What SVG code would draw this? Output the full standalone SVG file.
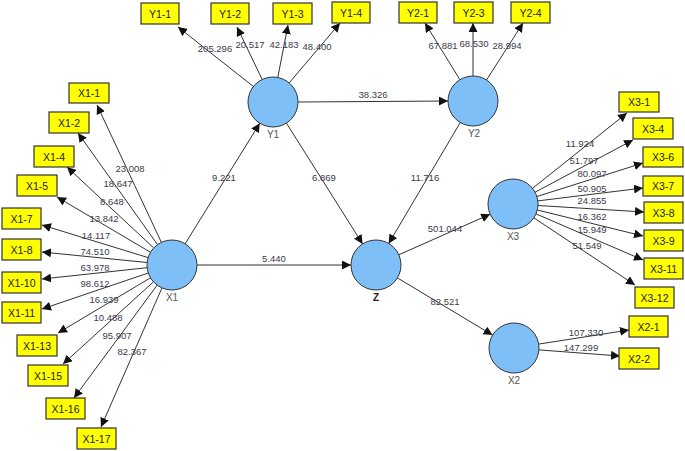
<svg xmlns="http://www.w3.org/2000/svg" width="685" height="451" viewBox="0 0 685 451">
<defs>
<marker id="ah" viewBox="0 0 10 10" refX="10" refY="5" markerWidth="9" markerHeight="9" markerUnits="userSpaceOnUse" orient="auto">
<path d="M0,0 L10,5 L0,10 z" fill="#111"/>
</marker>
</defs>
<style>
.c{stroke:#333;stroke-width:1;fill:none;marker-end:url(#ah)}
.lv{fill:#7fbff7;stroke:#333;stroke-width:1}
.bx{fill:#ffff00;stroke:#333;stroke-width:1.2}
.bt{font-family:"Liberation Sans",Arial,sans-serif;font-size:10.5px;fill:#222;text-anchor:middle}
.nl{font-family:"Liberation Sans",Arial,sans-serif;font-size:10px;fill:#555;text-anchor:middle}
.v{font-family:"Liberation Sans",Arial,sans-serif;font-size:9.5px;fill:#3a3a4a;text-anchor:middle}
</style>
<rect width="685" height="451" fill="#fff"/>
<g id="connectors">
<line class="c" x1="185" y1="244" x2="259.8" y2="123.2"/>
<line class="c" x1="197" y1="265" x2="351" y2="265"/>
<line class="c" x1="298" y1="102" x2="448" y2="101"/>
<line class="c" x1="286.4" y1="123.1" x2="362.6" y2="243.9"/>
<line class="c" x1="460.3" y1="122.5" x2="388.7" y2="243.5"/>
<line class="c" x1="398.8" y1="254.8" x2="490.2" y2="214.2"/>
<line class="c" x1="397.4" y1="277.9" x2="492.6" y2="335.1"/>
<line class="c" x1="161.4" y1="242.4" x2="97" y2="105"/>
<line class="c" x1="157.5" y1="244.6" x2="78" y2="133"/>
<line class="c" x1="153.7" y1="247.9" x2="67" y2="167"/>
<line class="c" x1="150.5" y1="252.3" x2="57" y2="197"/>
<line class="c" x1="148.1" y1="257.6" x2="42" y2="225"/>
<line class="c" x1="147.1" y1="262.5" x2="42" y2="252"/>
<line class="c" x1="147.2" y1="267.7" x2="42" y2="279"/>
<line class="c" x1="148.3" y1="273" x2="42" y2="309"/>
<line class="c" x1="150.5" y1="277.8" x2="58" y2="333"/>
<line class="c" x1="153.5" y1="281.8" x2="63" y2="364"/>
<line class="c" x1="157.2" y1="285.1" x2="74" y2="398"/>
<line class="c" x1="162" y1="287.9" x2="101" y2="427"/>
<line class="c" x1="253.4" y1="86.5" x2="178" y2="27"/>
<line class="c" x1="262.2" y1="79.5" x2="237" y2="27"/>
<line class="c" x1="277.8" y1="77.4" x2="288" y2="25"/>
<line class="c" x1="289.2" y1="82.9" x2="340" y2="23"/>
<line class="c" x1="459.9" y1="79.7" x2="425" y2="23"/>
<line class="c" x1="473" y1="76" x2="473" y2="23"/>
<line class="c" x1="486.5" y1="80" x2="523" y2="23"/>
<line class="c" x1="532.5" y1="188.4" x2="627" y2="113"/>
<line class="c" x1="535.1" y1="192.2" x2="633" y2="140"/>
<line class="c" x1="536.9" y1="196.5" x2="643" y2="163"/>
<line class="c" x1="537.8" y1="200.9" x2="643" y2="188"/>
<line class="c" x1="538" y1="205.5" x2="644" y2="212"/>
<line class="c" x1="537.3" y1="210" x2="643" y2="236"/>
<line class="c" x1="536" y1="213.9" x2="643" y2="260"/>
<line class="c" x1="533.8" y1="217.8" x2="635" y2="285"/>
<line class="c" x1="538.7" y1="344.1" x2="629" y2="330"/>
<line class="c" x1="538.9" y1="349.9" x2="620" y2="356"/>
<g id="connector-labels">
<text class="v" x="224" y="181">9.221</text>
<text class="v" x="324" y="181">6.869</text>
<text class="v" x="274" y="262">5.440</text>
<text class="v" x="373" y="98">38.326</text>
<text class="v" x="425" y="181">11.716</text>
<text class="v" x="445" y="232">501.044</text>
<text class="v" x="445" y="305">82.521</text>
<text class="v" x="586" y="336">107.330</text>
<text class="v" x="581" y="351">147.299</text>
<text class="v" x="215" y="52">205.296</text>
<text class="v" x="250" y="48">20.517</text>
<text class="v" x="284" y="48">42.183</text>
<text class="v" x="317" y="50">48.400</text>
<text class="v" x="443" y="49">67.881</text>
<text class="v" x="474" y="47">68.530</text>
<text class="v" x="507" y="49">28.994</text>
<text class="v" x="130" y="172">23.008</text>
<text class="v" x="118" y="187">18.647</text>
<text class="v" x="112" y="205">8.648</text>
<text class="v" x="104" y="222">13.842</text>
<text class="v" x="96" y="239">14.117</text>
<text class="v" x="95" y="255">74.510</text>
<text class="v" x="95" y="271">63.978</text>
<text class="v" x="95" y="287">98.612</text>
<text class="v" x="104" y="303">16.939</text>
<text class="v" x="108" y="321">10.488</text>
<text class="v" x="117" y="339">95.907</text>
<text class="v" x="132" y="355">82.367</text>
<text class="v" x="580" y="147">11.924</text>
<text class="v" x="584" y="164">51.797</text>
<text class="v" x="592" y="177">80.097</text>
<text class="v" x="592" y="192">50.905</text>
<text class="v" x="592" y="204">24.855</text>
<text class="v" x="592" y="220">16.362</text>
<text class="v" x="592" y="233">15.949</text>
<text class="v" x="587" y="249">51.549</text>
</g>
</g>
<g id="X1"><circle class="lv" cx="172" cy="265" r="25"/><text class="nl" x="172" y="301">X1</text></g>
<g id="Y1"><circle class="lv" cx="273" cy="102" r="25"/><text class="nl" x="273" y="138">Y1</text></g>
<g id="Y2"><circle class="lv" cx="473" cy="101" r="25"/><text class="nl" x="474" y="137">Y2</text></g>
<g id="Z"><circle class="lv" cx="376" cy="265" r="25"/><text class="nl" x="376" y="301" style="fill:#222;font-weight:bold">Z</text></g>
<g id="X3"><circle class="lv" cx="513" cy="204" r="25"/><text class="nl" x="513" y="240">X3</text></g>
<g id="X2"><circle class="lv" cx="514" cy="348" r="25"/><text class="nl" x="514" y="384">X2</text></g>
<g id="Y1-1"><rect class="bx" x="141" y="3" width="38" height="21"/><text class="bt" x="160" y="17.5">Y1-1</text></g>
<g id="Y1-2"><rect class="bx" x="211" y="3" width="38" height="21"/><text class="bt" x="230" y="17.5">Y1-2</text></g>
<g id="Y1-3"><rect class="bx" x="273" y="3" width="39" height="21"/><text class="bt" x="292.5" y="17.5">Y1-3</text></g>
<g id="Y1-4"><rect class="bx" x="332" y="2" width="38" height="21"/><text class="bt" x="351" y="16.5">Y1-4</text></g>
<g id="Y2-1"><rect class="bx" x="399" y="2" width="38" height="21"/><text class="bt" x="418" y="16.5">Y2-1</text></g>
<g id="Y2-3"><rect class="bx" x="454" y="2" width="39" height="21"/><text class="bt" x="473.5" y="16.5">Y2-3</text></g>
<g id="Y2-4"><rect class="bx" x="511" y="2" width="39" height="21"/><text class="bt" x="530.5" y="16.5">Y2-4</text></g>
<g id="X1-1"><rect class="bx" x="69" y="83" width="40" height="20"/><text class="bt" x="89" y="97">X1-1</text></g>
<g id="X1-2"><rect class="bx" x="49" y="112" width="40" height="21"/><text class="bt" x="69" y="126.5">X1-2</text></g>
<g id="X1-4"><rect class="bx" x="34" y="146" width="40" height="21"/><text class="bt" x="54" y="160.5">X1-4</text></g>
<g id="X1-5"><rect class="bx" x="17" y="175" width="40" height="21"/><text class="bt" x="37" y="189.5">X1-5</text></g>
<g id="X1-7"><rect class="bx" x="2" y="208" width="39" height="21"/><text class="bt" x="21.5" y="222.5">X1-7</text></g>
<g id="X1-8"><rect class="bx" x="2" y="239" width="39" height="21"/><text class="bt" x="21.5" y="253.5">X1-8</text></g>
<g id="X1-10"><rect class="bx" x="2" y="272" width="39" height="21"/><text class="bt" x="21.5" y="286.5">X1-10</text></g>
<g id="X1-11"><rect class="bx" x="2" y="302" width="39" height="21"/><text class="bt" x="21.5" y="316.5">X1-11</text></g>
<g id="X1-13"><rect class="bx" x="17" y="335" width="40" height="21"/><text class="bt" x="37" y="349.5">X1-13</text></g>
<g id="X1-15"><rect class="bx" x="28" y="365" width="40" height="21"/><text class="bt" x="48" y="379.5">X1-15</text></g>
<g id="X1-16"><rect class="bx" x="46" y="398" width="39" height="21"/><text class="bt" x="65.5" y="412.5">X1-16</text></g>
<g id="X1-17"><rect class="bx" x="77" y="428" width="39" height="21"/><text class="bt" x="96.5" y="442.5">X1-17</text></g>
<g id="X3-1"><rect class="bx" x="619" y="92" width="40" height="20"/><text class="bt" x="639" y="106">X3-1</text></g>
<g id="X3-4"><rect class="bx" x="633" y="118" width="40" height="21"/><text class="bt" x="653" y="132.5">X3-4</text></g>
<g id="X3-6"><rect class="bx" x="643" y="147" width="40" height="20"/><text class="bt" x="663" y="161">X3-6</text></g>
<g id="X3-7"><rect class="bx" x="643" y="176" width="40" height="20"/><text class="bt" x="663" y="190">X3-7</text></g>
<g id="X3-8"><rect class="bx" x="644" y="202" width="39" height="21"/><text class="bt" x="663.5" y="216.5">X3-8</text></g>
<g id="X3-9"><rect class="bx" x="644" y="230" width="39" height="21"/><text class="bt" x="663.5" y="244.5">X3-9</text></g>
<g id="X3-11"><rect class="bx" x="644" y="258" width="39" height="21"/><text class="bt" x="663.5" y="272.5">X3-11</text></g>
<g id="X3-12"><rect class="bx" x="635" y="287" width="39" height="21"/><text class="bt" x="654.5" y="301.5">X3-12</text></g>
<g id="X2-1"><rect class="bx" x="629" y="316" width="39" height="21"/><text class="bt" x="648.5" y="330.5">X2-1</text></g>
<g id="X2-2"><rect class="bx" x="619" y="348" width="40" height="21"/><text class="bt" x="639" y="362.5">X2-2</text></g>
</svg>
